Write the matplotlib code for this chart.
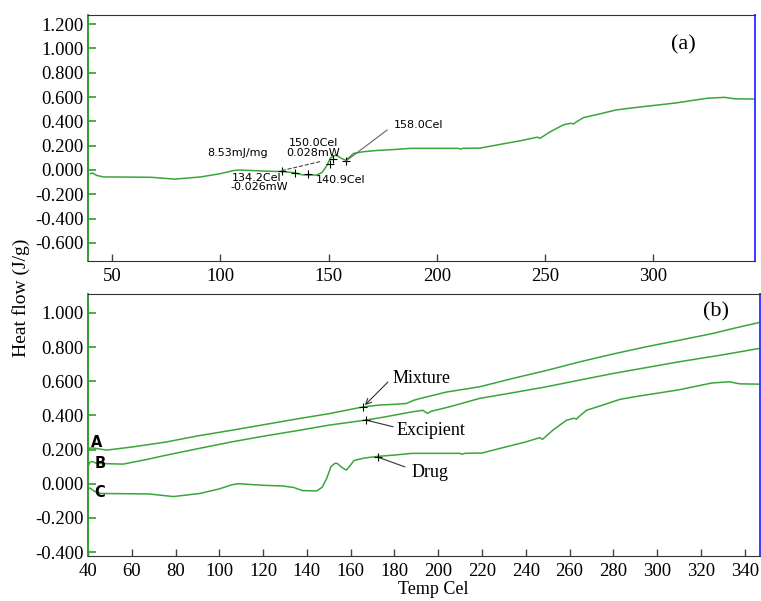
import matplotlib
matplotlib.use("Agg")
import matplotlib.pyplot as plt

plt.rcParams['font.family'] = ['Liberation Serif', 'DejaVu Serif']
plt.rcParams['axes.unicode_minus'] = False

# drug curve (C), same run shown in panel (a)
drug_t = [40, 41, 43, 46, 55, 68, 79, 91, 100, 106, 109, 115, 122, 129, 134, 138,
          144.5, 147, 149, 151, 152.8, 154, 156, 158, 160, 161.5, 166, 172, 180, 188,
          200, 210, 211, 212, 220, 231, 240, 246.4, 247.6, 249, 252.4, 258.6, 262,
          263.2, 264, 267.7, 275, 283, 290, 300, 310, 325, 333, 337.7, 347]
drug_v = [-0.03, -0.025, -0.045, -0.057, -0.058, -0.06, -0.075, -0.057, -0.03, -0.005,
          0.0, -0.005, -0.01, -0.013, -0.022, -0.04, -0.042, -0.02, 0.03, 0.1, 0.12,
          0.118, 0.095, 0.08, 0.11, 0.136, 0.15, 0.16, 0.168, 0.178, 0.178, 0.178,
          0.172, 0.178, 0.18, 0.216, 0.245, 0.27, 0.26, 0.275, 0.314, 0.372, 0.384,
          0.378, 0.39, 0.43, 0.46, 0.494, 0.51, 0.53, 0.55, 0.59, 0.597, 0.585, 0.583]

# mixture curve (A)
mix_t = [40, 42, 48.5, 60, 76, 90, 106, 120, 137, 150, 165.7, 173.3, 180, 185.5,
         188.4, 192, 203.8, 219, 234.2, 250, 264.7, 280, 295, 310, 325.5, 335, 347]
mix_v = [0.207, 0.21, 0.197, 0.215, 0.245, 0.28, 0.314, 0.345, 0.383, 0.41, 0.45,
         0.461, 0.465, 0.47, 0.487, 0.5, 0.537, 0.568, 0.617, 0.665, 0.714, 0.76,
         0.802, 0.84, 0.88, 0.91, 0.945]

# excipient curve (B)
exc_t = [40, 40.8, 42, 44, 56, 66, 76, 90, 106, 120, 137, 150, 167, 173.3, 188.5,
         193, 195, 197, 205, 219, 235, 249.5, 265, 280, 295, 310, 330, 347]
exc_v = [0.1, 0.125, 0.13, 0.119, 0.115, 0.14, 0.168, 0.205, 0.246, 0.278, 0.314,
         0.343, 0.373, 0.386, 0.422, 0.43, 0.412, 0.425, 0.45, 0.5, 0.535, 0.568,
         0.608, 0.646, 0.68, 0.714, 0.755, 0.793]

# peak analysis marks in panel (a)
mark_t = [128.4, 134.6, 140.7, 150.7, 152, 158.1]
mark_v = [-0.005, -0.022, -0.032, 0.05, 0.088, 0.074]

green = '#3aa63a'
spine_green = '#2e9e2e'
blue = '#3a3aff'

fig = plt.figure(figsize=(7.61, 6.01), dpi=100)
ax1 = fig.add_axes([88 / 761, 1 - 261 / 601, 667 / 761, 246 / 601])
ax2 = fig.add_axes([88 / 761, 1 - 556 / 601, 672 / 761, 262 / 601])


def style(ax):
    ax.spines['left'].set_color(spine_green)
    ax.spines['left'].set_linewidth(1.4)
    ax.spines['right'].set_color(blue)
    ax.spines['right'].set_linewidth(1.4)
    ax.spines['top'].set_color('#333333')
    ax.spines['bottom'].set_color('#333333')
    ax.tick_params(axis='y', direction='in', length=6, width=1.2, color=spine_green,
                   labelsize=13.5, pad=3)
    ax.tick_params(axis='x', direction='in', length=5, width=1, color='#444444',
                   labelsize=13.5, pad=5)
    ax.yaxis.set_major_formatter(matplotlib.ticker.FormatStrFormatter('%.3f'))
    for t in ax.get_xticklabels() + ax.get_yticklabels():
        t.set_fontfamily('Liberation Serif')


# panel (a)
ax1.plot(drug_t, drug_v, color=green, lw=1.1)
ax1.plot(mark_t, mark_v, '+', color='black', ms=6, mew=0.8)
ax1.plot([mark_t[0], 146.1], [mark_v[0], 0.069], ls='--', color='#444444', lw=0.8)
ax1.plot([mark_t[-1], 177.1], [mark_v[-1], 0.329], color='#666666', lw=0.8)
ax1.set_xlim(38.9, 347)
ax1.set_ylim(-0.748, 1.274)
ax1.set_xticks([50, 100, 150, 200, 250, 300])
ax1.set_yticks([1.2, 1.0, 0.8, 0.6, 0.4, 0.2, 0.0, -0.2, -0.4, -0.6])
style(ax1)
small = dict(family='DejaVu Sans', fontsize=8, ha='center', va='center')
ax1.text(108.2, 0.14, '8.53mJ/mg', **small)
ax1.text(142.9, 0.222, '150.0Cel', **small)
ax1.text(142.9, 0.14, '0.028mW', **small)
ax1.text(117, -0.065, '134.2Cel', **small)
ax1.text(117.8, -0.139, '-0.026mW', **small)
ax1.text(155.8, -0.082, '140.9Cel', **small)
ax1.text(191.4, 0.37, '158.0Cel', **small)
ax1.text(0.8925, 0.88, '(a)', transform=ax1.transAxes, fontsize=16,
         ha='center', va='center')

# panel (b)
ax2.plot(mix_t, mix_v, color=green, lw=1.1)
ax2.plot(exc_t, exc_v, color=green, lw=1.1)
ax2.plot(drug_t, drug_v, color=green, lw=1.1)
ax2.set_xlim(40, 347)
ax2.set_ylim(-0.423, 1.111)
ax2.set_xticks(list(range(40, 341, 20)))
ax2.set_yticks([1.0, 0.8, 0.6, 0.4, 0.2, 0.0, -0.2, -0.4])
style(ax2)

lab = dict(family='DejaVu Sans', fontsize=10.5, fontweight='bold', ha='center', va='center')
ax2.text(44.1, 0.244, 'A', **lab)
ax2.text(45.5, 0.12, 'B', **lab)
ax2.text(45.5, -0.05, 'C', **lab)

ax2.annotate('', xy=(165.6, 0.449), xytext=(177.9, 0.607),
             arrowprops=dict(arrowstyle='->', color='#333333', lw=0.8))
ax2.plot([165.6], [0.449], '+', color='black', ms=6, mew=0.8)
ax2.text(192.5, 0.619, 'Mixture', fontsize=13, ha='center', va='center')
ax2.plot([166.9, 179.3], [0.373, 0.334], color='#333333', lw=0.8)
ax2.plot([166.9], [0.373], '+', color='black', ms=6, mew=0.8)
ax2.text(196.6, 0.314, 'Excipient', fontsize=13, ha='center', va='center')
ax2.plot([172.4, 184.7], [0.156, 0.099], color='#333333', lw=0.8)
ax2.plot([172.4], [0.156], '+', color='black', ms=6, mew=0.8)
ax2.text(196.2, 0.068, 'Drug', fontsize=13, ha='center', va='center')
ax2.text(0.935, 0.93, '(b)', transform=ax2.transAxes, fontsize=16,
         ha='center', va='center')

fig.text(0.027, 0.504, 'Heat flow (J/g)', rotation=90, fontsize=14,
         ha='center', va='center')
fig.text(433 / 761, 1 - 590 / 601, 'Temp Cel', fontsize=13, ha='center', va='center')

fig.savefig('out.png', dpi=100)
